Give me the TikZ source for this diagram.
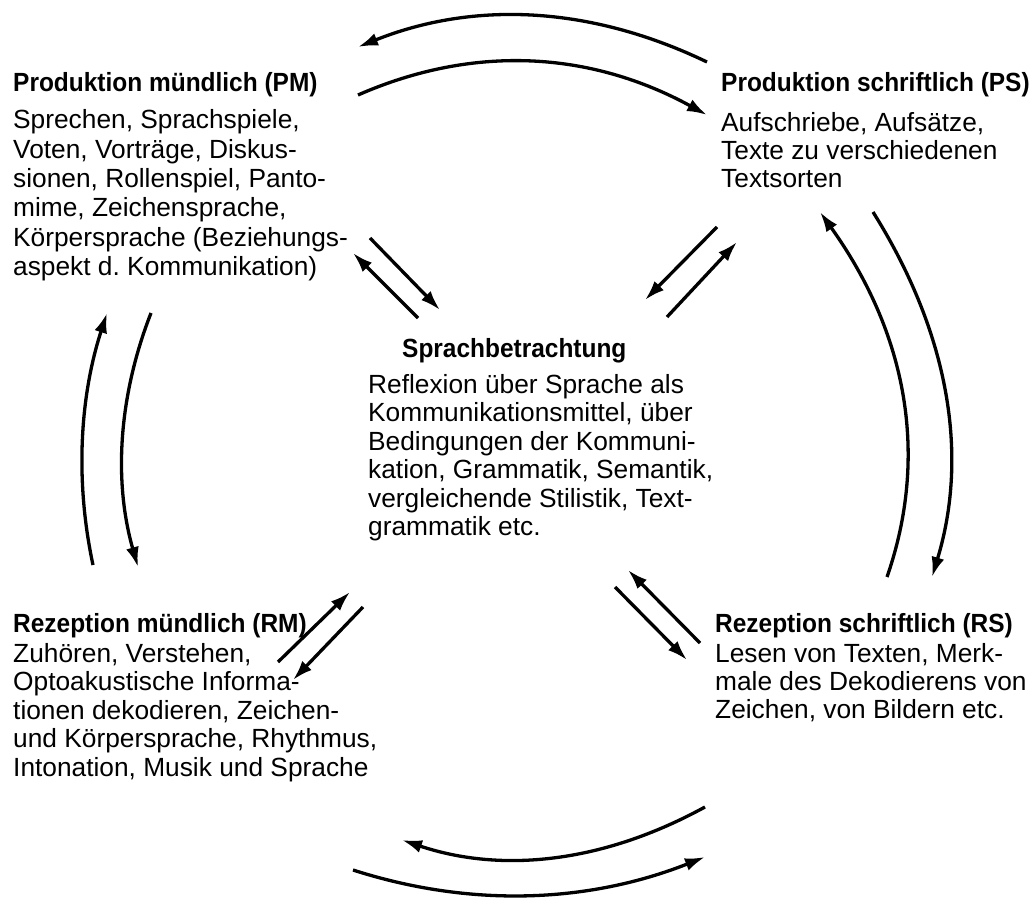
\documentclass[tikz,border=0pt]{standalone}
\usepackage{fontspec}
\setmainfont{Liberation Sans}
\newfontfamily\titlefont{Liberation Sans}[FakeStretch=0.93]
\usetikzlibrary{arrows.meta}
\frenchspacing
\tikzset{
  ttl/.style={anchor=base west, inner sep=0pt, font=\titlefont\bfseries\fontsize{26.3}{29}\selectfont},
  body/.style={anchor=base west, inner sep=0pt, align=left},
  arr/.style={line width=3.3pt, -{Latex[length=20pt,width=13pt]}},
}
\begin{document}
\begin{tikzpicture}[x=1pt,y=-1pt]
\useasboundingbox (0,0) rectangle (1034,901);
% texts (body nodes are anchored at the baseline of their last line)
\node[ttl] (pmT) at (13,92) {Produktion mündlich (PM)};
\node[body, font=\fontsize{26.3}{29.3}\selectfont] (pmB) at (13,275.5) {Sprechen, Sprachspiele,\\Voten, Vorträge, Diskus-\\sionen, Rollenspiel, Panto-\\mime, Zeichensprache,\\Körpersprache (Beziehungs-\\aspekt d. Kommunikation)};
\node[ttl] (psT) at (721,92) {Produktion schriftlich (PS)};
\node[body, font=\fontsize{26.3}{28}\selectfont] (psB) at (721,188) {Aufschriebe, Aufsätze,\\Texte zu verschiedenen\\Textsorten};
\node[ttl] (sbT) at (402,358) {Sprachbetrachtung};
\node[body, font=\fontsize{26.3}{28.5}\selectfont] (sbB) at (368,535.5) {Reflexion über Sprache als\\Kommunikationsmittel, über\\Bedingungen der Kommuni-\\kation, Grammatik, Semantik,\\vergleichende Stilistik, Text-\\grammatik etc.};
\node[ttl] (rmT) at (13,632) {Rezeption mündlich (RM)};
\node[body, font=\fontsize{26.3}{28.5}\selectfont] (rmB) at (13,776) {Zuhören, Verstehen,\\Optoakustische Informa-\\tionen dekodieren, Zeichen-\\und Körpersprache, Rhythmus,\\Intonation, Musik und Sprache};
\node[ttl] (rsT) at (715,632) {Rezeption schriftlich (RS)};
\node[body, font=\fontsize{26.3}{28}\selectfont] (rsB) at (715,718) {Lesen von Texten, Merk-\\male des Dekodierens von\\Zeichen, von Bildern etc.};
% coordinates
\coordinate (t1s) at (707,62);  \coordinate (t1e) at (358,47);
\coordinate (t2s) at (358,95);  \coordinate (t2e) at (707,115);
\coordinate (b1s) at (705,807); \coordinate (b1e) at (402,840);
\coordinate (b2s) at (353,870); \coordinate (b2e) at (705,857);
\coordinate (r1s) at (887,577); \coordinate (r1e) at (820,212);
\coordinate (r2s) at (873,212); \coordinate (r2e) at (932,577);
\coordinate (l1s) at (93,565);  \coordinate (l1e) at (107,313);
\coordinate (l2s) at (151,313); \coordinate (l2e) at (138,567);
\coordinate (as) at (418,318); \coordinate (ae) at (353,253);
\coordinate (bs) at (370,238); \coordinate (be) at (440,310);
\coordinate (cs) at (717,227); \coordinate (ce) at (645,300);
\coordinate (ds) at (667,317); \coordinate (de) at (737,242);
\coordinate (es) at (278,662); \coordinate (ee) at (350,592);
\coordinate (fs) at (363,607); \coordinate (fe) at (293,680);
\coordinate (gs) at (700,643); \coordinate (ge) at (628,570);
\coordinate (hs) at (615,587); \coordinate (he) at (687,660);
% curved arrows
\draw[arr] (t1s) .. controls (590,5.7) and (473.7,0.7) .. (t1e);
\draw[arr] (t2s) .. controls (473.7,44.3) and (590,51) .. (t2e);
\draw[arr] (b1s) .. controls (603.3,862.7) and (502.3,873.7) .. (b1e);
\draw[arr] (b2s) .. controls (470.3,907.7) and (587.7,903.3) .. (b2e);
\draw[arr] (r1s) .. controls (929.3,455.3) and (907,333.7) .. (r1e);
\draw[arr] (r2s) .. controls (949.3,333.7) and (969,455.3) .. (r2e);
\draw[arr] (l1s) .. controls (75,481) and (79.7,397) .. (l1e);
\draw[arr] (l2s) .. controls (118,397.7) and (113.7,482.3) .. (l2e);
% straight arrows
\draw[arr] (as) -- (ae);
\draw[arr] (bs) -- (be);
\draw[arr] (cs) -- (ce);
\draw[arr] (ds) -- (de);
\draw[arr] (es) -- (ee);
\draw[arr] (fs) -- (fe);
\draw[arr] (gs) -- (ge);
\draw[arr] (hs) -- (he);
\end{tikzpicture}
\end{document}
